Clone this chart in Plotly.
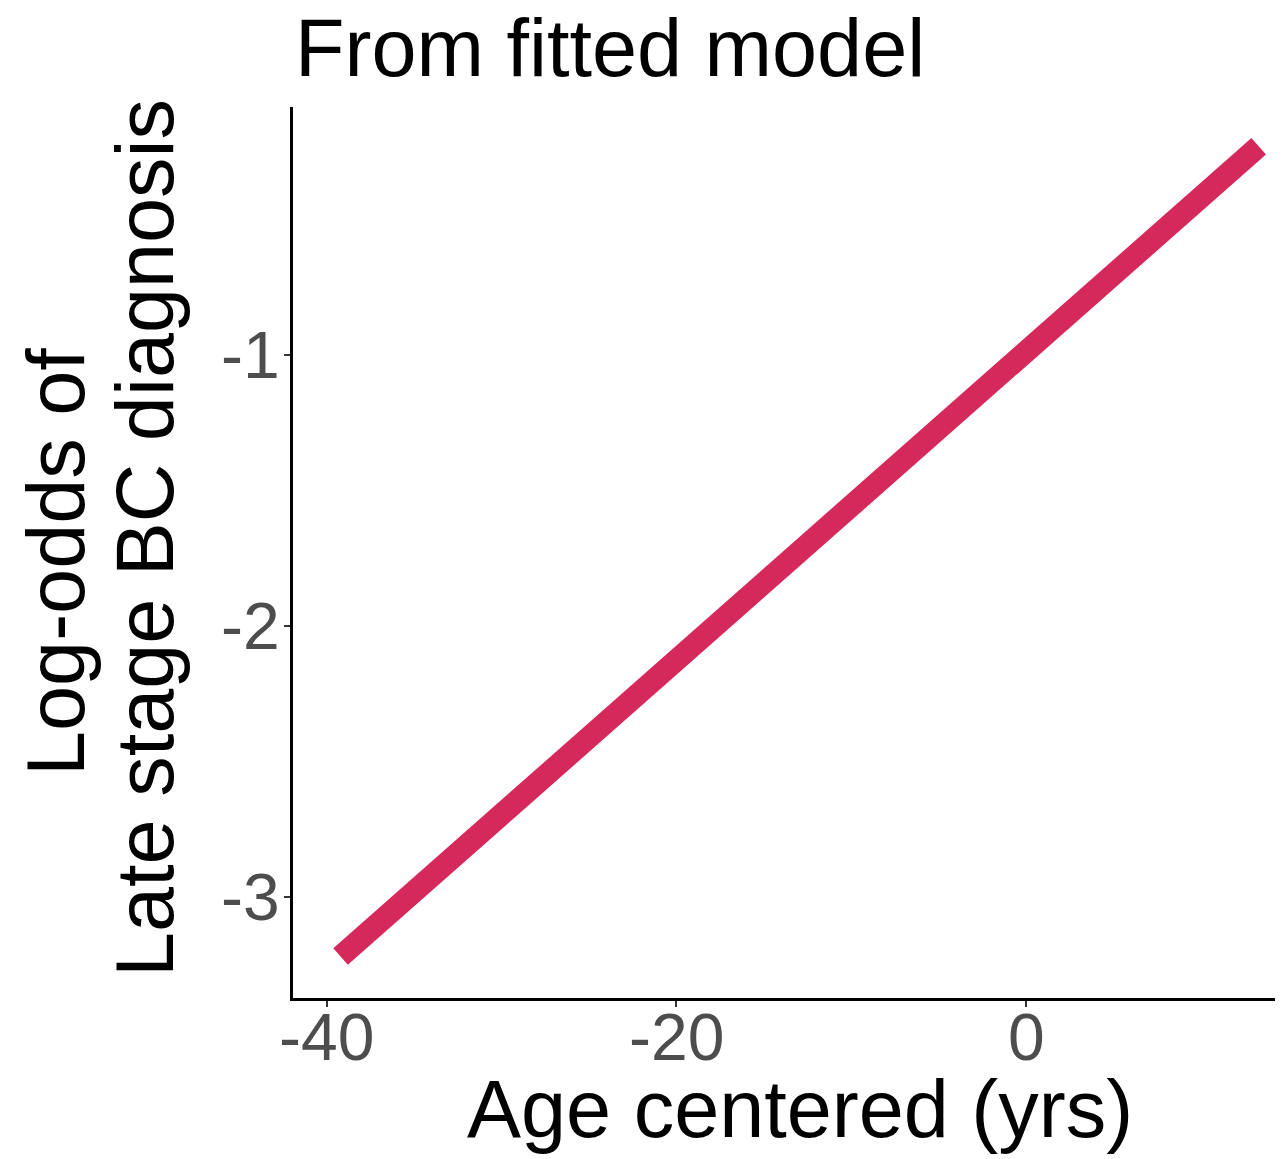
import plotly.graph_objects as go

# Data
age_centered = [-39.2, 13.3]
log_odds = [-3.22, -0.23]
x_ticks = [-40, -20, 0]
y_ticks = [-3, -2, -1]
title_text = "From fitted model"
x_title = "Age centered (yrs)"
y_title_lines = ["Log-odds of", "Late stage BC diagnosis"]

OFF = 8  # default page body margin
W, H = 1283 - OFF, 1159 - OFF
# reference pixel geometry of the plot panel
P_L, P_R, P_T, P_B = 293, 1283, 107, 998
L = P_L - OFF
T = P_T - OFF
R = 0
B = (1159 - P_B)
PW = P_R - P_L
PH = P_B - P_T

def px_x(px):
    return (px - P_L) / PW

def px_y(py):
    return (P_B - py) / PH

fig = go.Figure()
fig.add_trace(go.Scatter(
    x=age_centered, y=log_odds, mode="lines",
    line=dict(color="#D5295B", width=22),
    showlegend=False, hoverinfo="skip",
))

font = "Liberation Sans, Arial, sans-serif"
tick_font = dict(size=66, color="#4D4D4D", family=font)

fig.update_layout(
    width=W, height=H,
    margin=dict(l=L, r=R, t=T, b=B, pad=0, autoexpand=False),
    paper_bgcolor="white", plot_bgcolor="white",
    font=dict(family=font),
    xaxis=dict(
        range=[-41.92, 14.69], tickvals=x_ticks, showticklabels=False,
        showgrid=False, zeroline=False, showline=True, linecolor="black", linewidth=2.5,
        ticks="outside", ticklen=6, tickwidth=2, tickcolor="#333333",
    ),
    yaxis=dict(
        range=[-3.373, -0.085], tickvals=y_ticks, showticklabels=False,
        showgrid=False, zeroline=False, showline=True, linecolor="black", linewidth=2.5,
        ticks="outside", ticklen=6, tickwidth=2, tickcolor="#333333",
    ),
)

ann = []
for v in x_ticks:
    ann.append(dict(text=str(v), xref="x", yref="paper", x=v, y=px_y(1037),
                    xanchor="center", yanchor="middle", showarrow=False, font=tick_font))
for v in y_ticks:
    ann.append(dict(text=str(v), xref="paper", yref="y", x=px_x(282), y=v,
                    xanchor="right", yanchor="middle", showarrow=False, font=tick_font))
ann.append(dict(text=title_text, xref="paper", yref="paper",
                x=px_x(293), y=px_y(48), xanchor="left", yanchor="middle",
                showarrow=False, font=dict(size=81, color="black", family=font)))
ann.append(dict(text=x_title, xref="paper", yref="paper",
                x=px_x(800), y=px_y(1109), xanchor="center", yanchor="middle",
                showarrow=False, font=dict(size=81, color="black", family=font)))
ann.append(dict(text=y_title_lines[0], xref="paper", yref="paper",
                x=px_x(56), y=px_y(562), xanchor="center", yanchor="middle",
                textangle=-90, showarrow=False,
                font=dict(size=81, color="black", family=font)))
ann.append(dict(text=y_title_lines[1], xref="paper", yref="paper",
                x=px_x(145), y=px_y(538), xanchor="center", yanchor="middle",
                textangle=-90, showarrow=False,
                font=dict(size=81, color="black", family=font)))
fig.update_layout(annotations=ann)

fig.write_html("out.html")
